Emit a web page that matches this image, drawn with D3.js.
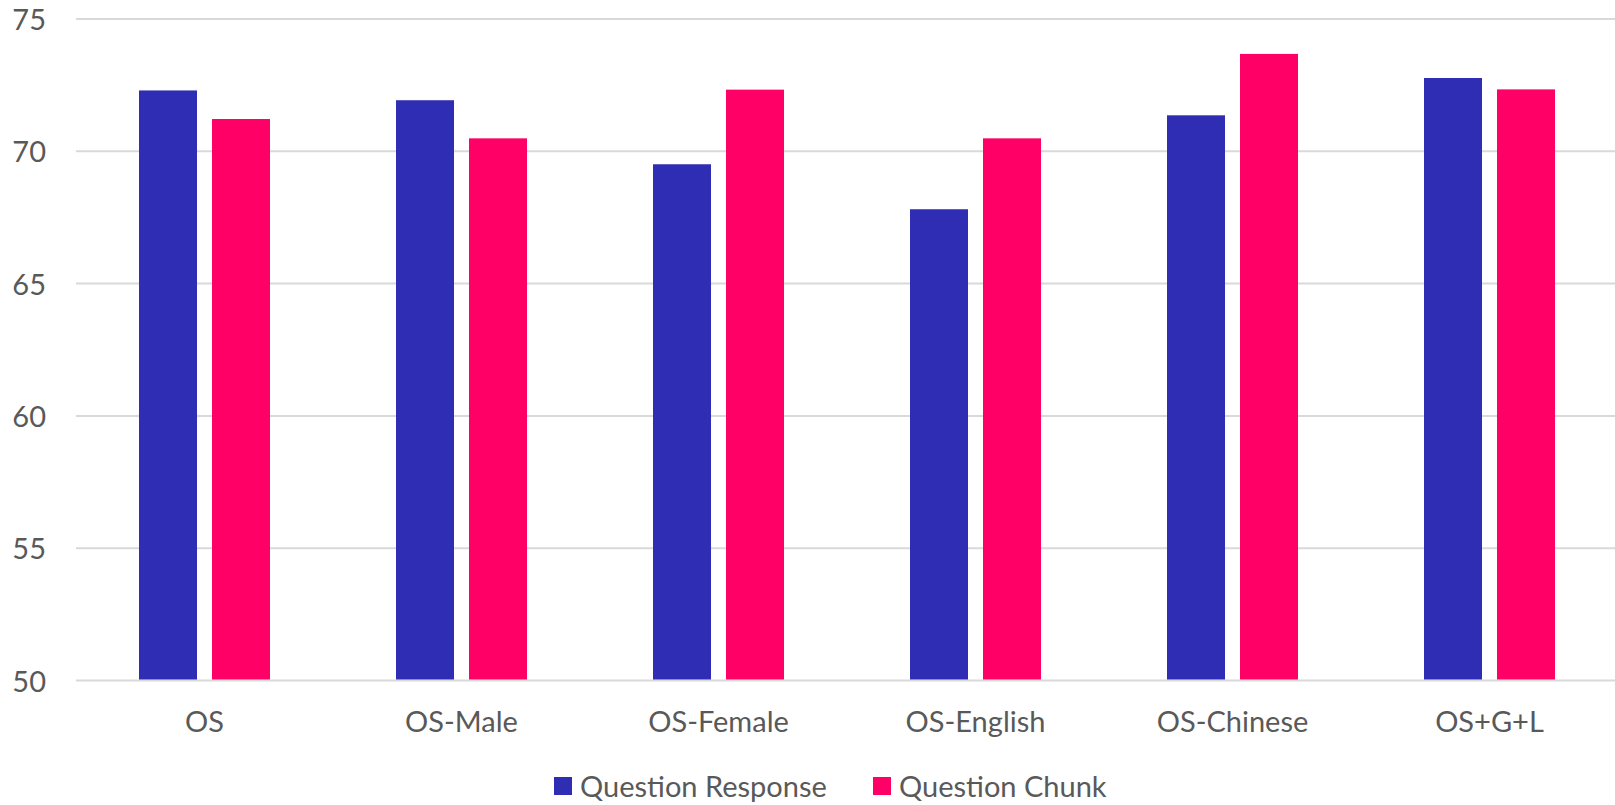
<!DOCTYPE html>
<html>
<head>
<meta charset="utf-8">
<script src="https://cdn.jsdelivr.net/npm/d3@7"></script>
<style>
  body { margin: 0; background: #fff; }
  text { font-family: Lato, "Noto Sans", sans-serif; fill: #595959; }
</style>
</head>
<body>
<svg id="chart"></svg>
<script>
const categories = ['OS', 'OS-Male', 'OS-Female', 'OS-English', 'OS-Chinese', 'OS+G+L'];
const seriesNames = ['Question Response', 'Question Chunk'];
const questionResponse = [72.30, 71.93, 69.51, 67.81, 71.36, 72.77];
const questionChunk = [71.22, 70.49, 72.33, 70.49, 73.68, 72.34];
const yTicks = [50, 55, 60, 65, 70, 75];

const colors = ['#2E2DB4', '#FF0066'];
const width = 1615;
const height = 805;

const svg = d3.select('#chart')
              .attr('width', width)
              .attr('height', height);

const x = d3.scaleBand()
            .domain(categories)
            .range([76, 1618]);

const y = d3.scaleLinear()
            .domain([50, 75])
            .range([680.5, 19]);

// gridlines
svg.append('g')
   .selectAll('line')
   .data(yTicks)
   .enter()
   .append('line')
   .attr('x1', 76)
   .attr('x2', width)
   .attr('y1', d => y(d))
   .attr('y2', d => y(d))
   .attr('stroke', '#D9D9D9')
   .attr('stroke-width', 2);

// y labels
svg.append('g')
   .selectAll('text')
   .data(yTicks)
   .enter()
   .append('text')
   .attr('x', 46)
   .attr('y', d => y(d) + 11)
   .attr('text-anchor', 'end')
   .style('font-size', '29px')
   .text(d => d);

// bars
const barW = 58;
const gap = 15;
const rows = categories.map((c, i) => ({ cat: c, values: [questionResponse[i], questionChunk[i]] }));

const groups = svg.selectAll('.grp')
                  .data(rows)
                  .enter()
                  .append('g')
                  .attr('class', 'grp')
                  .attr('transform', d => `translate(${x(d.cat) + x.bandwidth() / 2}, 0)`);

groups.selectAll('rect')
      .data(d => d.values)
      .enter()
      .append('rect')
      .attr('x', (d, i) => i === 0 ? -(barW + gap / 2) : gap / 2)
      .attr('y', d => y(d))
      .attr('width', barW)
      .attr('height', d => y(50) - y(d) - 1)
      .attr('fill', (d, i) => colors[i]);

// x labels
svg.append('g')
   .selectAll('text')
   .data(categories)
   .enter()
   .append('text')
   .attr('x', d => x(d) + x.bandwidth() / 2)
   .attr('y', 732)
   .attr('text-anchor', 'middle')
   .style('font-size', '29px')
   .text(d => d);

// Legend
const legendX = [554, 873];
const legend = svg.append('g');
seriesNames.forEach((name, i) => {
  legend.append('rect')
        .attr('x', legendX[i])
        .attr('y', 777)
        .attr('width', 18)
        .attr('height', 18)
        .attr('fill', colors[i]);
  legend.append('text')
        .attr('x', legendX[i] + 26)
        .attr('y', 797)
        .style('font-size', '29px')
        .text(name);
});
</script>
</body>
</html>
